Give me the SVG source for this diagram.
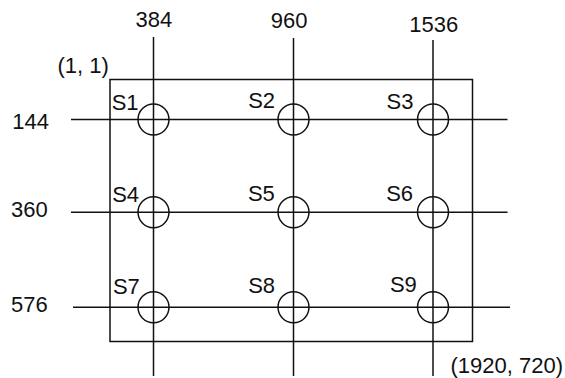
<svg xmlns="http://www.w3.org/2000/svg" width="565" height="378" viewBox="0 0 565 378">
<style>
  text { font-family: "Liberation Sans", Arial, sans-serif; font-size: 22px; fill: #111; }
  .ln { stroke: #111; stroke-width: 1.5; fill: none; }
  .c { stroke: #111; stroke-width: 1.5; fill: none; }
</style>
<rect width="565" height="378" fill="#fff"/>
<g id="frame">
  <rect class="ln" x="110" y="79.5" width="362.5" height="262"/>
  <text x="57.5" y="72.5">(1, 1)</text>
  <text x="450.5" y="372.5">(1920, 720)</text>
</g>
<g id="connectors">
  <line class="ln" x1="153.5" y1="37" x2="153.5" y2="376"/>
  <line class="ln" x1="293.5" y1="38" x2="293.5" y2="376"/>
  <line class="ln" x1="433" y1="40" x2="433" y2="376"/>
  <line class="ln" x1="71" y1="119.5" x2="507.5" y2="119.5"/>
  <line class="ln" x1="71" y1="212.3" x2="507.5" y2="212.3"/>
  <line class="ln" x1="73" y1="307.3" x2="510" y2="307.3"/>
</g>
<g id="axis-labels">
  <text x="153.8" y="26.5" text-anchor="middle">384</text>
  <text x="289.2" y="28" text-anchor="middle">960</text>
  <text x="433.8" y="31.5" text-anchor="middle">1536</text>
  <text x="12.3" y="129.3">144</text>
  <text x="11" y="216.7">360</text>
  <text x="11" y="311.7">576</text>
</g>
<g id="S1"><circle class="c" cx="153.5" cy="119.5" r="15.5"/><text x="111.7" y="110">S1</text></g>
<g id="S2"><circle class="c" cx="293.5" cy="119.5" r="15.5"/><text x="248.2" y="108.3">S2</text></g>
<g id="S3"><circle class="c" cx="433" cy="119.5" r="15.5"/><text x="386.5" y="109.3">S3</text></g>
<g id="S4"><circle class="c" cx="153.5" cy="212.3" r="15.5"/><text x="112.2" y="201.7">S4</text></g>
<g id="S5"><circle class="c" cx="293.5" cy="212.3" r="15.5"/><text x="247.9" y="200.7">S5</text></g>
<g id="S6"><circle class="c" cx="433" cy="212.3" r="15.5"/><text x="386.2" y="200.7">S6</text></g>
<g id="S7"><circle class="c" cx="153.5" cy="307.3" r="15.5"/><text x="112.9" y="294">S7</text></g>
<g id="S8"><circle class="c" cx="293.5" cy="307.3" r="15.5"/><text x="248.2" y="293.3">S8</text></g>
<g id="S9"><circle class="c" cx="433" cy="307.3" r="15.5"/><text x="389.9" y="291.7">S9</text></g>
</svg>
